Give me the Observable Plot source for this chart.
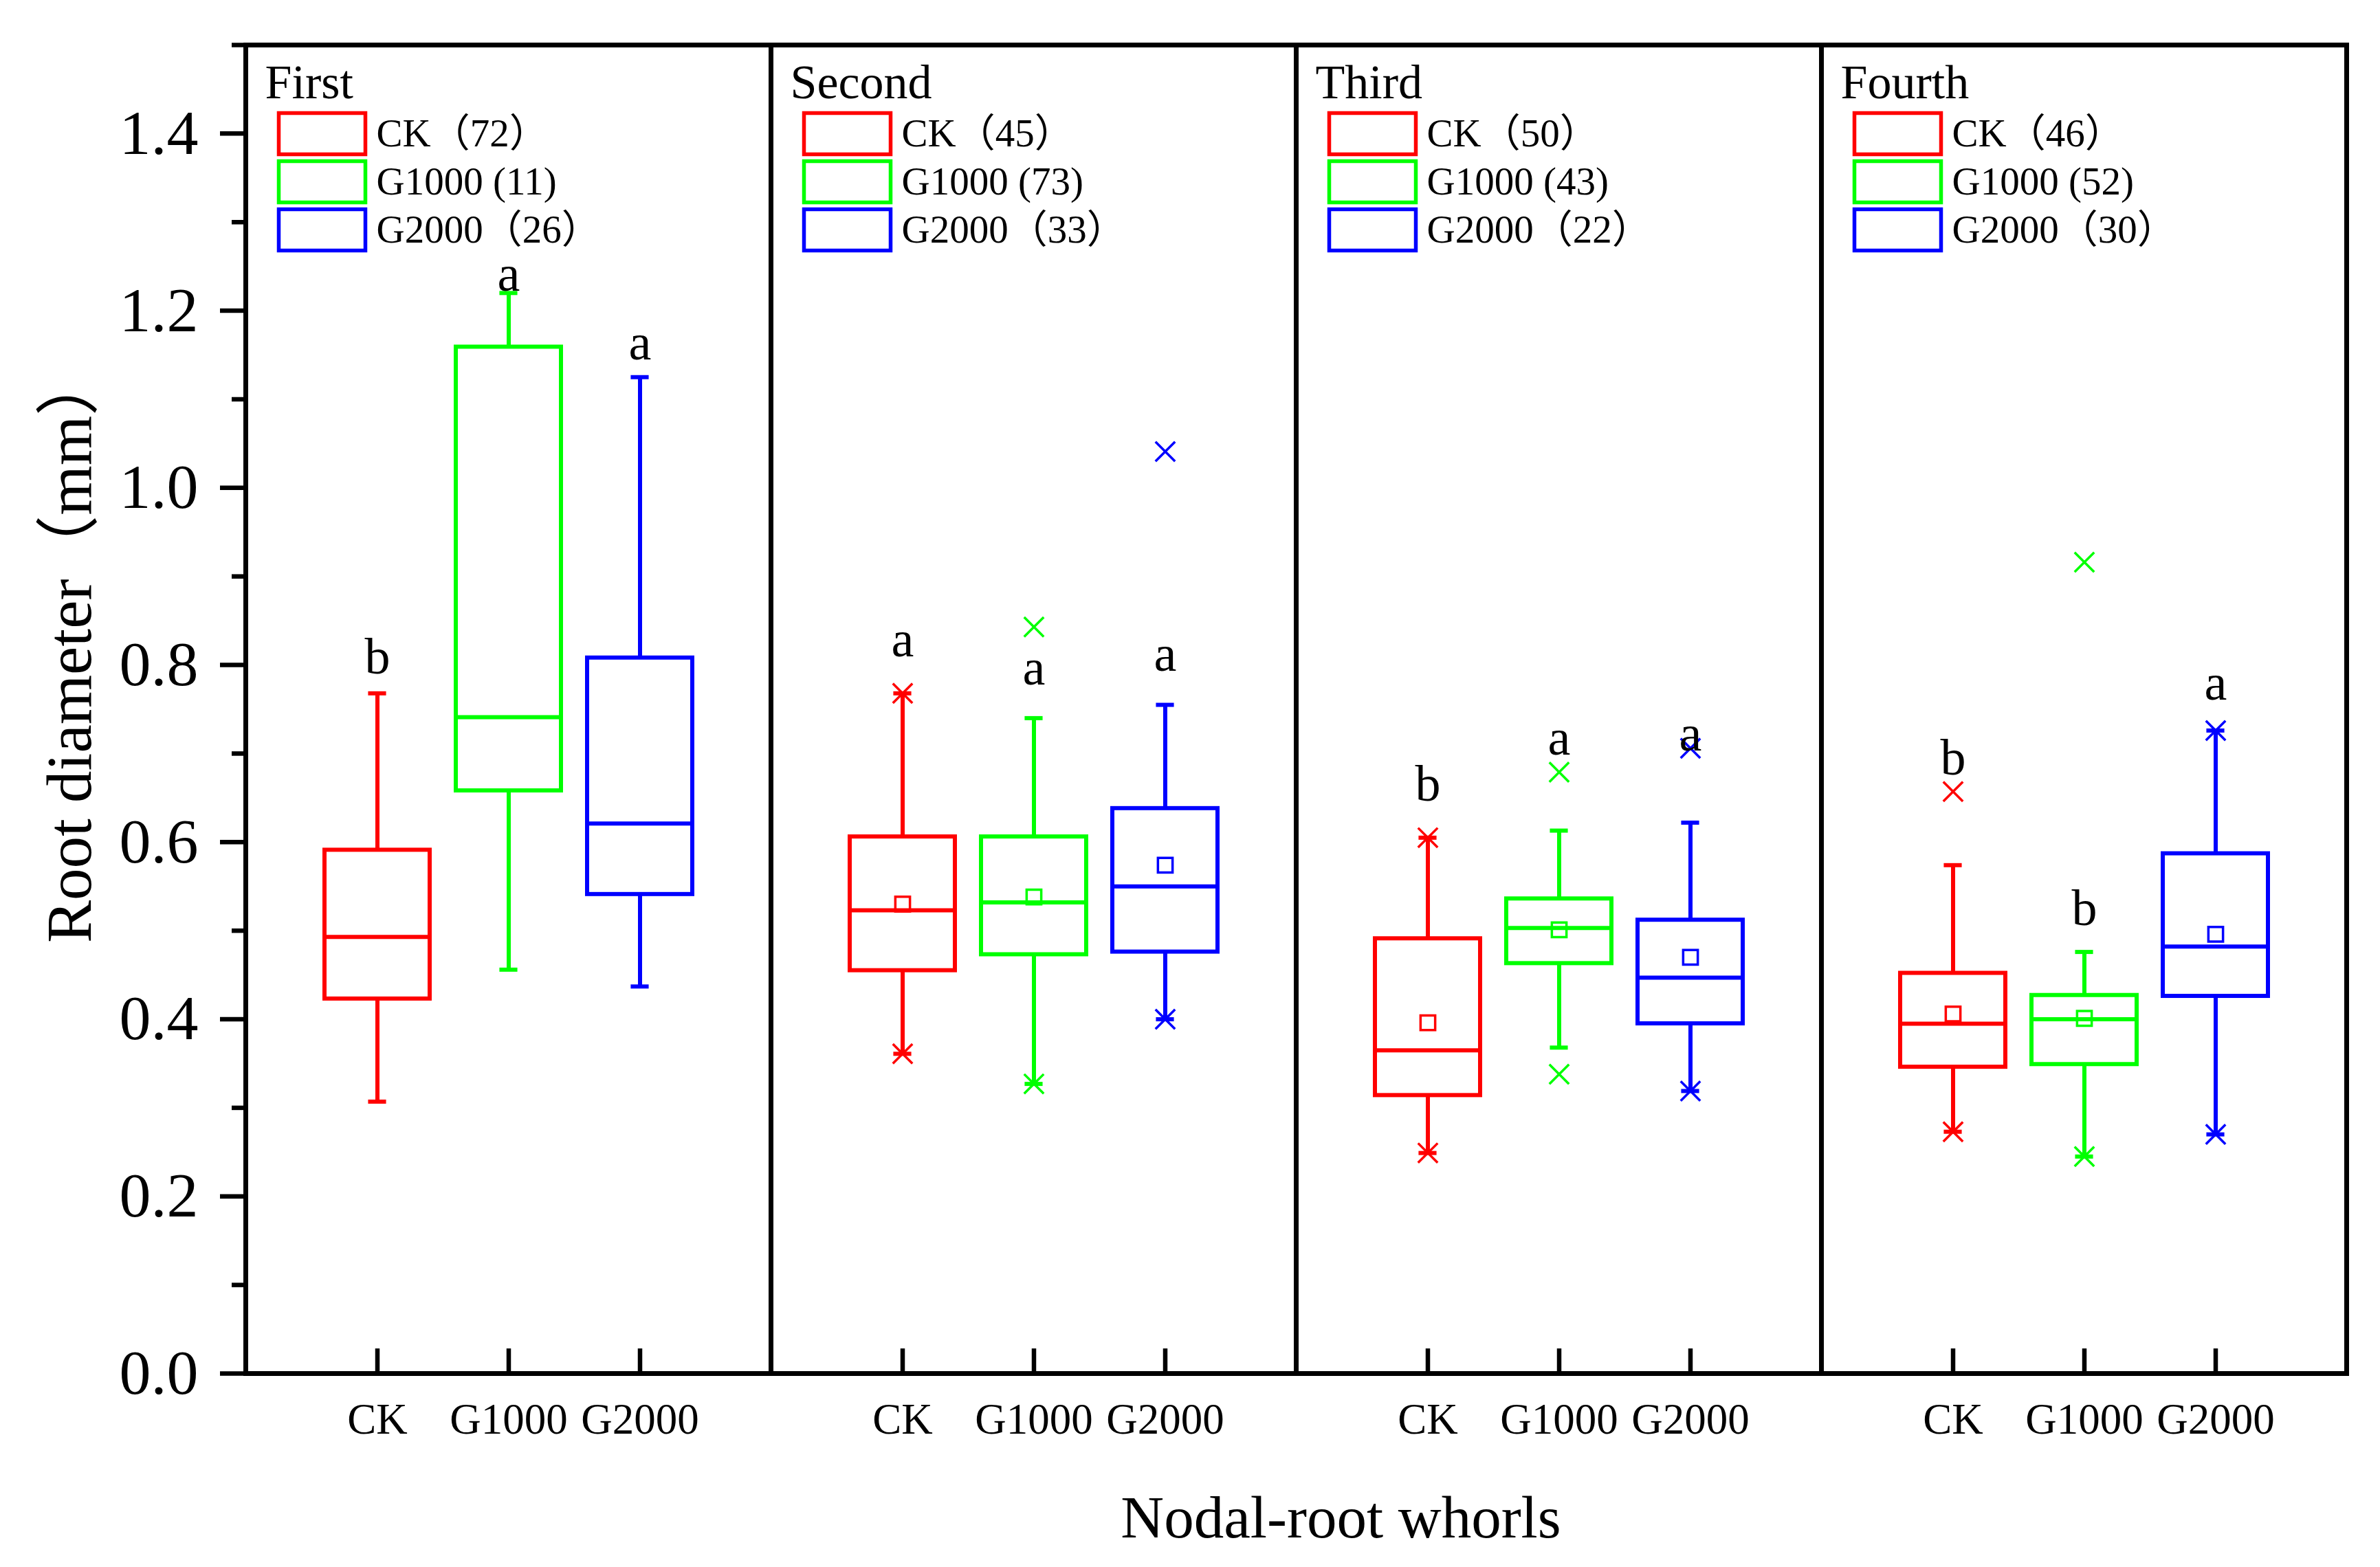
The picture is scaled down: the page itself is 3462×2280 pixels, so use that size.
<!DOCTYPE html>
<html><head><meta charset="utf-8">
<script src="https://cdn.jsdelivr.net/npm/d3@7"></script>
<script src="https://cdn.jsdelivr.net/npm/@observablehq/plot@0.6"></script>
<style>html,body{margin:0;padding:0;background:#fff;}</style>
</head><body><div id="chart"></div>
<script>
// ---------- data ----------
const panels = ["First", "Second", "Third", "Fourth"];
const groups = ["CK", "G1000", "G2000"];
const groupColors = ["#ff0000", "#00ff00", "#0000ff"];
const countsCK = [72, 45, 50, 46];
const countsG1000 = [11, 73, 43, 52];
const countsG2000 = [26, 33, 22, 30];
// box statistics, ordered panel by panel (CK, G1000, G2000)
const whiskerLow  = [0.307, 0.456, 0.437, 0.361, 0.327, 0.400, 0.249, 0.368, 0.319, 0.273, 0.245, 0.270];
const quartile1   = [0.423, 0.658, 0.541, 0.455, 0.473, 0.476, 0.314, 0.463, 0.395, 0.346, 0.349, 0.426];
const medians     = [0.493, 0.741, 0.621, 0.523, 0.532, 0.550, 0.365, 0.503, 0.447, 0.395, 0.400, 0.482];
const quartile3   = [0.591, 1.159, 0.808, 0.606, 0.606, 0.638, 0.491, 0.536, 0.512, 0.452, 0.427, 0.587];
const whiskerHigh = [0.768, 1.220, 1.125, 0.768, 0.740, 0.755, 0.605, 0.613, 0.622, 0.574, 0.476, 0.726];
const means       = [null, null, null, 0.530, 0.538, 0.574, 0.396, 0.501, 0.470, 0.406, 0.401, 0.496];
const letters     = ["b", "a", "a", "a", "a", "a", "b", "a", "a", "b", "b", "a"];
const letterY     = [0.809, 1.241, 1.163, 0.828, 0.796, 0.812, 0.665, 0.717, 0.722, 0.695, 0.525, 0.779];
// extreme-value (×) markers
const crossPanel = ["Second","Second","Second","Second","Second","Second",
                    "Third","Third","Third","Third","Third","Third",
                    "Fourth","Fourth","Fourth","Fourth","Fourth","Fourth"];
const crossGroup = ["CK","CK","G1000","G1000","G2000","G2000",
                    "CK","CK","G1000","G1000","G2000","G2000",
                    "CK","CK","G1000","G1000","G2000","G2000"];
const crossValue = [0.768, 0.361, 0.843, 0.327, 1.041, 0.400,
                    0.605, 0.249, 0.679, 0.338, 0.706, 0.319,
                    0.657, 0.273, 0.916, 0.245, 0.726, 0.270];
const majorTicks = [0, 0.2, 0.4, 0.6, 0.8, 1.0, 1.2, 1.4];
const minorTicks = [0.1, 0.3, 0.5, 0.7, 0.9, 1.1, 1.3, 1.5];
const yLabel = "Root diameter（mm）";
const xLabel = "Nodal-root whorls";

// ---------- tables ----------
const stats = [];
panels.forEach((p, i) => groups.forEach((g, j) => {
  const k = i * 3 + j;
  stats.push({panel: p, group: g, lo: whiskerLow[k], q1: quartile1[k], median: medians[k],
    q3: quartile3[k], hi: whiskerHigh[k], mean: means[k], letter: letters[k], letterY: letterY[k]});
}));
const crosses = crossValue.map((v, i) => ({panel: crossPanel[i], group: crossGroup[i], value: v}));
const countLists = [countsCK, countsG1000, countsG2000];
const legend = [];
panels.forEach((p, i) => groups.forEach((g, j) => {
  const n = countLists[j][i];
  legend.push({panel: p, group: g, label: g === "G1000" ? `${g} (${n})` : `${g}（${n}）`});
}));

// ---------- layout ----------
const W = 3462, H = 2280, mL = 356, mR = 49, mT = 65, mB = 282;
const innerH = H - mT - mB;
const facetW = (W - mL - mR) / panels.length;
const bandW = facetW / 4 * 0.8;
const capInset = (bandW - 26) / 2;
const font = "'Liberation Serif', 'Times New Roman', 'Noto Sans CJK SC', serif";
const legendBox = {draw(context) { context.rect(-63, -30, 126, 60); }};
const lw = 6;

const legendMarks = groups.flatMap((g, i) => [
  Plot.dot(legend.filter(d => d.group === g), {fx: "panel", frameAnchor: "top-left", dx: 111, dy: 129 + 70 * i,
    symbol: legendBox, stroke: "group", fill: "none", strokeWidth: 5.5}),
  Plot.text(legend.filter(d => d.group === g), {fx: "panel", frameAnchor: "top-left", dx: 190, dy: 129 + 70 * i,
    text: "label", textAnchor: "start", lineAnchor: "middle", fontSize: 57, fill: "#000"})
]);

const chart = Plot.plot({
  width: W, height: H,
  marginLeft: mL, marginRight: mR, marginTop: mT, marginBottom: mB,
  style: {fontFamily: font, background: "#fff", color: "#000"},
  fx: {domain: panels, padding: 0, axis: null},
  x: {domain: groups, paddingInner: 0.2, paddingOuter: 0.6},
  y: {domain: [0, 1.5]},
  color: {domain: groups, range: groupColors},
  marks: [
    // boxes
    Plot.barY(stats, {fx: "panel", x: "group", y1: "q1", y2: "q3", fill: "none", stroke: "group", strokeWidth: lw}),
    Plot.tickY(stats, {fx: "panel", x: "group", y: "median", stroke: "group", strokeWidth: lw}),
    Plot.ruleX(stats, {fx: "panel", x: "group", y1: "q3", y2: "hi", stroke: "group", strokeWidth: lw}),
    Plot.ruleX(stats, {fx: "panel", x: "group", y1: "lo", y2: "q1", stroke: "group", strokeWidth: lw}),
    Plot.tickY(stats, {fx: "panel", x: "group", y: "hi", stroke: "group", strokeWidth: lw, insetLeft: capInset, insetRight: capInset}),
    Plot.tickY(stats, {fx: "panel", x: "group", y: "lo", stroke: "group", strokeWidth: lw, insetLeft: capInset, insetRight: capInset}),
    Plot.dot(stats.filter(d => d.mean != null), {fx: "panel", x: "group", y: "mean", symbol: "square", r: 12, stroke: "group", fill: "none", strokeWidth: 3.5}),
    Plot.dot(crosses, {fx: "panel", x: "group", y: "value", symbol: "times", r: 13, stroke: "group", strokeWidth: 3.5}),
    Plot.text(stats, {fx: "panel", x: "group", y: "letterY", text: "letter", fontSize: 74, fill: "#000"}),
    // legends
    Plot.text(panels, {fx: d => d, text: d => d, frameAnchor: "top-left", dx: 28, dy: 55, textAnchor: "start", lineAnchor: "middle", fontSize: 70, fill: "#000"}),
    ...legendMarks,
    // axes
    Plot.frame({stroke: "#000", strokeWidth: 7}),
    Plot.axisY({ticks: majorTicks, tickSize: 37, tickPadding: 32, tickFormat: d3.format(".1f"), fontSize: 92, strokeWidth: 6.5, label: null}),
    Plot.axisY({ticks: minorTicks, tickSize: 20, tickFormat: () => "", strokeWidth: 6.5, label: null}),
    Plot.axisX({tickSize: 0, tickPadding: 43, fontSize: 63, label: null}),
    Plot.tickX(stats, {fx: "panel", x: "group", insetTop: innerH - 36, stroke: "#000", strokeWidth: 6.5}),
    Plot.text([yLabel], {fx: () => panels[0], text: d => d, frameAnchor: "left", rotate: -90, dx: -255, dy: -90,
      textAnchor: "middle", lineAnchor: "middle", fontSize: 93, fill: "#000"}),
    Plot.text([xLabel], {fx: () => panels[1], text: d => d, frameAnchor: "bottom-right", dx: 65, dy: 211,
      textAnchor: "middle", lineAnchor: "middle", fontSize: 87, fill: "#000"})
  ]
});
document.getElementById("chart").append(chart);
</script>
</body></html>
